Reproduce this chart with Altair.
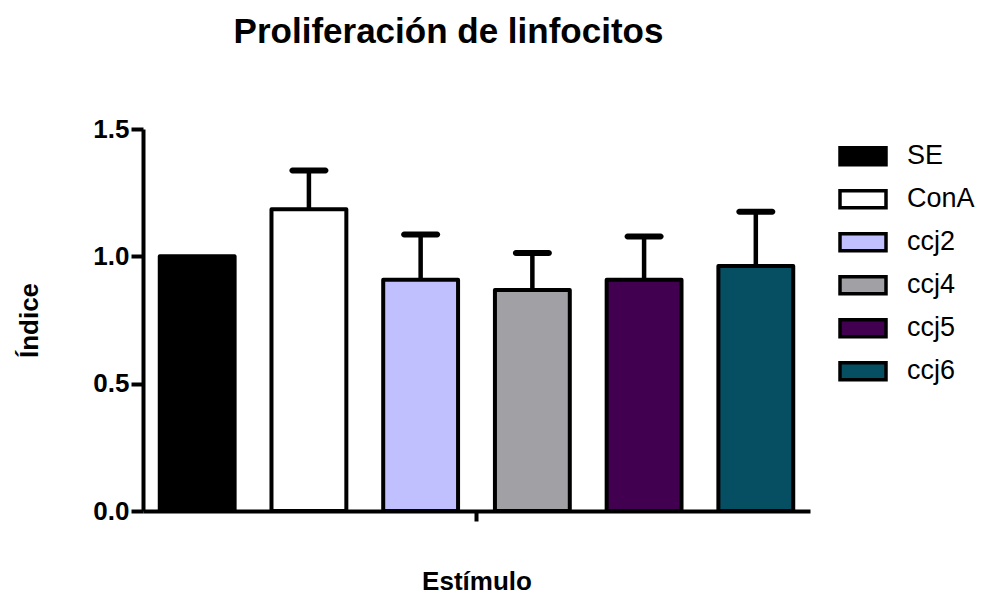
import altair as alt
import pandas as pd

# Data
estimulos = ["SE", "ConA", "ccj2", "ccj4", "ccj5", "ccj6"]
medias = [1.0, 1.185, 0.908, 0.868, 0.908, 0.962]
errores = [0.0, 0.152, 0.178, 0.145, 0.170, 0.213]
colores = ["#000000", "#FFFFFF", "#C0C0FF", "#A1A1A5", "#420050", "#064F62"]
y_ticks = [0.0, 0.5, 1.0, 1.5]

df = pd.DataFrame({
    "grupo": ["Estímulo"] * len(estimulos),
    "estimulo": estimulos,
    "media": medias,
    "error": errores,
})
df["superior"] = df["media"] + df["error"]

FONT = "Liberation Sans"

x_enc = alt.X(
    "grupo:N",
    scale=alt.Scale(paddingInner=0, paddingOuter=0),
    axis=alt.Axis(
        title="Estímulo", labels=False, ticks=True, tickSize=10, tickWidth=4,
        tickColor="black", domainColor="black", domainWidth=4,
        titleFont=FONT, titleFontSize=26, titleFontWeight="bold",
        titleColor="black", titlePadding=45,
    ),
)
xoff_enc = alt.XOffset(
    "estimulo:N", sort=estimulos,
    scale=alt.Scale(paddingInner=0.33, paddingOuter=0.15),
)
y_scale = alt.Scale(domain=[0, 1.5], nice=False)

bars = alt.Chart(df).mark_bar(
    stroke="black", strokeWidth=4, strokeJoin="round"
).encode(
    x=x_enc,
    xOffset=xoff_enc,
    y=alt.Y(
        "media:Q", scale=y_scale,
        axis=alt.Axis(
            title="Índice", values=y_ticks, format=".1f", grid=False,
            tickSize=12, tickWidth=4, tickColor="black",
            domainColor="black", domainWidth=4,
            labelFont=FONT, labelFontSize=26, labelFontWeight="bold",
            labelColor="black", labelPadding=2,
            titleFont=FONT, titleFontSize=26, titleFontWeight="bold",
            titleColor="black", titlePadding=50,
        ),
    ),
    color=alt.Color(
        "estimulo:N", sort=estimulos,
        scale=alt.Scale(domain=estimulos, range=colores),
        legend=alt.Legend(
            title=None, orient="none", legendX=695, legendY=6,
            symbolType="M-1,-0.37H1V0.37H-1Z", symbolSize=2116,
            symbolStrokeColor="black", symbolStrokeWidth=3.5,
            symbolOpacity=1,
            labelFont=FONT, labelFontSize=27, labelColor="black",
            labelOffset=19, rowPadding=0, clipHeight=42.3,
        ),
    ),
)

err_base = alt.Chart(df).transform_filter("datum.error > 0")

stems = err_base.mark_rule(color="black", strokeWidth=4.5).encode(
    x=alt.X("grupo:N"),
    xOffset=alt.XOffset("estimulo:N", sort=estimulos),
    y=alt.Y("media:Q", scale=y_scale),
    y2="superior:Q",
)

caps = err_base.mark_tick(
    color="black", size=39, thickness=6, cornerRadius=3, opacity=1
).encode(
    x=alt.X("grupo:N"),
    xOffset=alt.XOffset("estimulo:N", sort=estimulos),
    y=alt.Y("superior:Q", scale=y_scale),
)

chart = alt.layer(bars, stems, caps).properties(
    width=667,
    height=382,
    title=alt.Title(
        "Proliferación de linfocitos", font=FONT, fontSize=35,
        fontWeight="bold", color="black", anchor="middle", dx=-28, offset=66,
    ),
    padding={"left": 8, "top": 7, "right": 0, "bottom": 0},
).configure_view(stroke=None).configure_axis(labelAngle=0)

chart.save("out.html", embed_options={"renderer": "svg", "actions": False})
